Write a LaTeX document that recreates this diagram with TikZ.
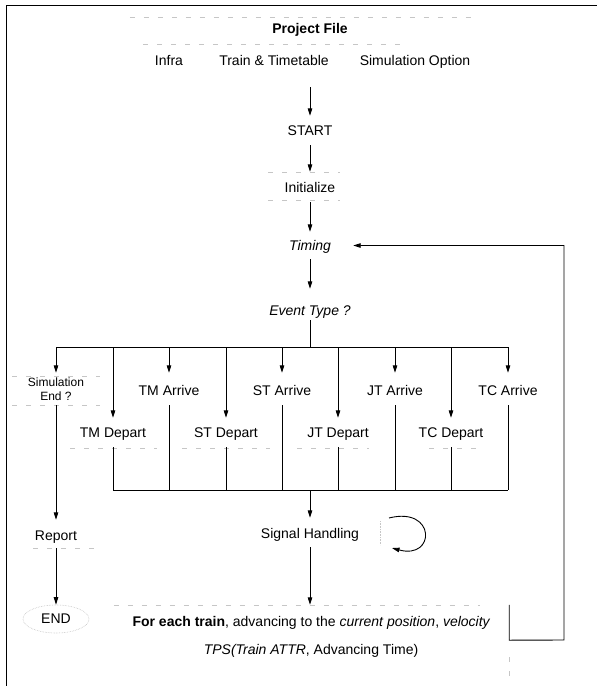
\documentclass[tikz,border=0pt]{standalone}
\usepackage{fontspec}
\setmainfont{Liberation Sans}
\usetikzlibrary{arrows.meta,shapes.geometric}
\begin{document}
\begin{tikzpicture}[x=1pt,y=-1pt,
  every node/.style={inner sep=0pt, font=\fontsize{14}{16}\selectfont},
  txt/.style={anchor=base, inner sep=0pt},
  conn/.style={line width=0.9pt},
  arr/.style={conn,-{Triangle[length=7.5pt,width=4.5pt]}},
  faint/.style={gray!45, line width=0.6pt, dash pattern=on 5pt off 9pt},
  frameline/.style={line width=1pt}]
\useasboundingbox (0,0) rectangle (597,686);

% frame
\draw[frameline] (6,686) -- (6,5) -- (597,5);

% project file block
\node[minimum width=342pt, minimum height=70pt] (proj) at (301,52) {};
\node[txt, font=\fontsize{14}{16}\selectfont\bfseries] (pf) at (310,33) {Project File};
\node[txt] (infra) at (169,65) {Infra};
\node[txt] (trtt) at (274,65) {Train \& Timetable};
\node[txt] (simopt) at (415,65) {Simulation Option};
\draw[faint] (proj.north west) -- (proj.north east);
\draw[faint] (143,44) -- (400,44);

% main column
\node[txt, text height=19pt, text depth=10pt] (nstart) at (310,135) {START};
\node[txt, text height=20pt, text depth=10pt] (init) at (310,192) {Initialize};
\node[txt, text height=18pt, text depth=9pt, minimum width=86pt] (timing) at (310,250) {\itshape Timing};
\node[txt, text height=26pt, text depth=5pt] (evt) at (310,315) {\itshape Event Type ?};
\draw[faint] (268,172) -- (340,172);
\draw[faint] (268,200) -- (340,200);

\draw[arr] (nstart |- proj.south) -- (nstart.north);
\draw[arr] (nstart.south) -- (init.north);
\draw[arr] (init.south) -- (timing.north);
\draw[arr] (timing.south) -- (evt.north);

% event branches
\node[align=center, minimum height=32pt, font=\fontsize{12}{14}\selectfont] (simend) at (56,389) {Simulation\\End ?};
\node[txt, text height=22pt, text depth=10pt] (tma) at (169,395) {TM Arrive};
\node[txt, text height=22pt, text depth=10pt] (sta) at (282,395) {ST Arrive};
\node[txt, text height=22pt, text depth=10pt] (jta) at (395,395) {JT Arrive};
\node[txt, text height=22pt, text depth=10pt] (tca) at (508,395) {TC Arrive};
\node[txt, text height=19pt, text depth=10pt] (tmd) at (113,437) {TM Depart};
\node[txt, text height=19pt, text depth=10pt] (std) at (226,437) {ST Depart};
\node[txt, text height=19pt, text depth=10pt] (jtd) at (338,437) {JT Depart};
\node[txt, text height=19pt, text depth=10pt] (tcd) at (451,437) {TC Depart};

\coordinate (bus) at (310,347);
\draw[conn] (evt.south) -- (bus);
\draw[conn] (simend.north |- bus) -- (tca.north |- bus);
\foreach \n in {simend,tmd,tma,std,sta,jtd,jta,tcd,tca}
  \draw[arr] (\n.north |- bus) -- (\n.north);

\draw[faint] (12,376) -- (100,376);
\draw[faint] (12,405) -- (100,405);
\draw[faint] (70,448) -- (157,448);
\draw[faint] (182,448) -- (270,448);
\draw[faint] (297,448) -- (369,448);
\draw[faint] (429,448) -- (479,448);

% collecting bar
\coordinate (bar) at (310,490);
\foreach \n in {tmd,tma,std,sta,jtd,jta,tcd,tca}
  \draw[conn] (\n.south) -- (\n.south |- bar);
\draw[conn] (tmd.south |- bar) -- (tca.south |- bar);

% signal handling
\node[txt, text height=20pt, text depth=9pt] (sig) at (310,538) {Signal Handling};
\draw[arr] (bar) -- (sig.north);
\coordinate (loopa) at (389,518);
\coordinate (loopb) at (392,548);
\draw[arr] (loopa) .. controls (436,506) and (436,560) .. (loopb);
\draw[gray!45, line width=0.6pt, densely dotted] (380,521) -- (380,545);

% report / end
\node[txt, text height=20pt, text depth=8pt] (report) at (56,540) {Report};
\node[ellipse, draw=gray!50, densely dotted, line width=0.6pt, minimum width=66pt, minimum height=28pt] (nend) at (56,619) {END};
\draw[arr] (simend.south) -- (report.north);
\draw[arr] (report.south) -- (nend.north);
\draw[faint] (33,548) -- (100,548);

% train advancing
\node[minimum width=395pt, minimum height=35pt] (train) at (311.5,622.5)
  {\textbf{For each train}, advancing to the \textit{current position}, \textit{velocity}};
\node[txt] (tps) at (311,654) {\textit{TPS(Train ATTR}, Advancing Time)};
\draw[arr] (sig.south) -- (sig.south |- train.north);
\draw[faint] (train.north west) -- ([xshift=-29pt]train.north east);
\draw[faint] (509,657) -- (509,676);

% feedback loop
\coordinate (fb) at (564,640);
\draw[arr] (train.north east) -- (train.south east) -- (fb) |- (timing.east);
\end{tikzpicture}
\end{document}
